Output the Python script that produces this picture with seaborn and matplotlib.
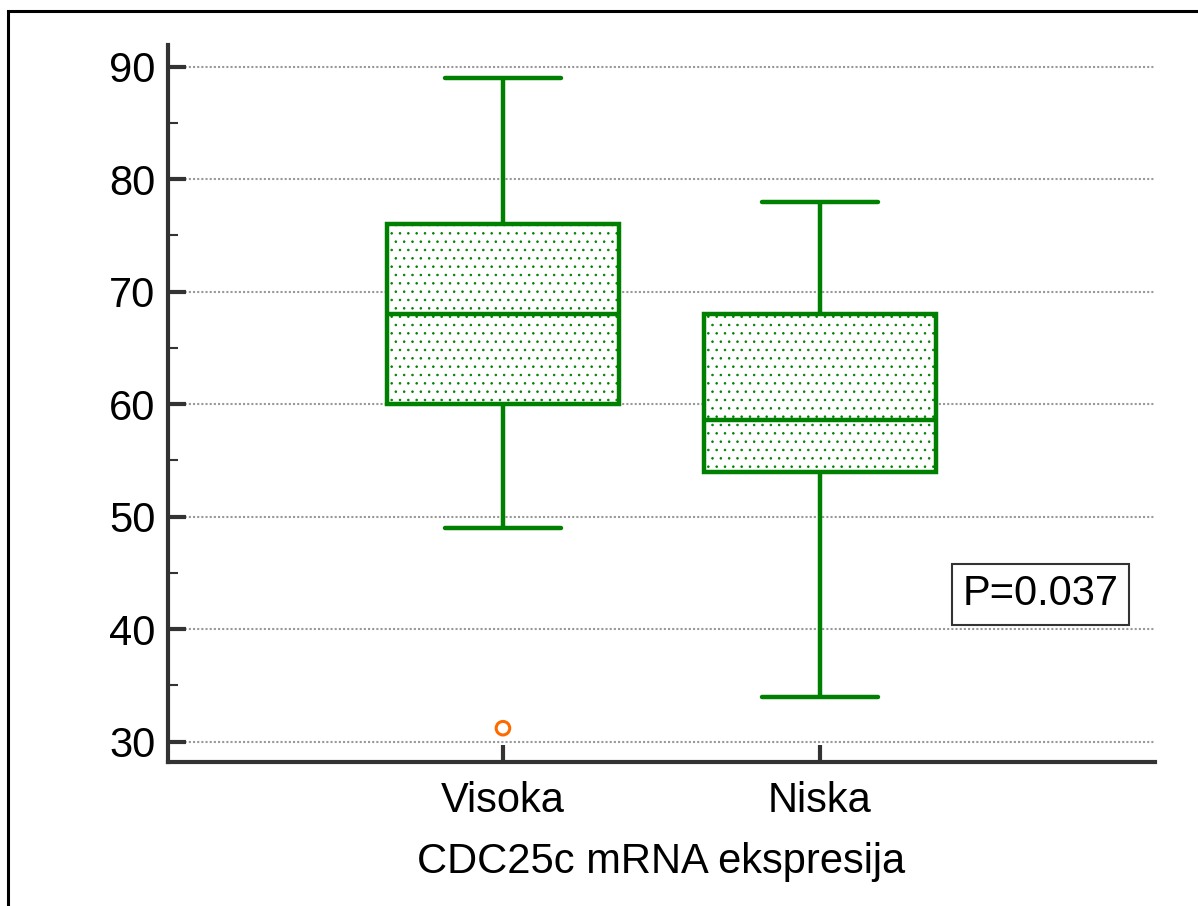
import matplotlib
matplotlib.use("Agg")
import matplotlib.pyplot as plt
from matplotlib.patches import Rectangle
from matplotlib.ticker import MultipleLocator
import pandas as pd
import seaborn as sns

# values (box plot summary per group)
groups = ['Visoka', 'Niska']
whisker_low = [49, 34]
q1 = [60, 54]
median = [68, 58.6]
q3 = [76, 68]
whisker_high = [89, 78]
outlier_group = ['Visoka']
outlier_value = [31.2]
p_text = 'P=0.037'
x_title = 'CDC25c mRNA ekspresija'

# five points per group -> quartiles / whiskers come out exactly as read
rows = []
for i, g in enumerate(groups):
    for v in [whisker_low[i], q1[i], median[i], q3[i], whisker_high[i]]:
        rows.append({'group': g, 'value': v})
df = pd.DataFrame(rows)

sns.set_style('white')
plt.rcParams['font.family'] = ['Liberation Sans', 'DejaVu Sans']
plt.rcParams['hatch.linewidth'] = 0.6
plt.rcParams['text.color'] = 'black'
plt.rcParams['axes.labelcolor'] = 'black'
plt.rcParams['xtick.labelcolor'] = 'black'
plt.rcParams['ytick.labelcolor'] = 'black'

green = '#008000'
dark = '#333333'

fig = plt.figure(figsize=(11.98, 9.06), dpi=100)
ax = fig.add_axes([0.1402, 0.159, 0.8238, 0.791])

sns.boxplot(data=df, x='group', y='value', order=groups, width=0.73,
            color='white', linecolor=green, linewidth=3.2, showfliers=False,
            whis=1.5, ax=ax)
for p in ax.patches:
    p.set_hatch('..')

ax.scatter([groups.index(g) for g in outlier_group], outlier_value, s=95,
           facecolors='none', edgecolors='#ff6a00', linewidths=2.2, zorder=5)

ax.set_xlim(-1.057, 2.057)
ax.set_ylim(28.2, 91.9)
ax.set_yticks(range(30, 91, 10))
ax.yaxis.set_minor_locator(MultipleLocator(5))

ax.yaxis.grid(True, which='major', linestyle=(0, (1, 1)), color='#999999', linewidth=1.5)
ax.set_axisbelow(True)

for s in ['top', 'right']:
    ax.spines[s].set_visible(False)
for s in ['left', 'bottom']:
    ax.spines[s].set_linewidth(3)
    ax.spines[s].set_color(dark)

ax.tick_params(axis='y', which='major', direction='in', length=13, width=3,
               color=dark, labelsize=30, pad=9, left=True, labelcolor='black')
ax.tick_params(axis='y', which='minor', direction='in', length=7, width=1.5,
               color=dark, left=True)
ax.tick_params(axis='x', which='major', direction='in', length=12, width=3,
               color=dark, labelsize=30, pad=14, bottom=True, labelcolor='black')

ax.set_xlabel(x_title, fontsize=30, labelpad=15, color='black')
ax.set_ylabel('')

ax.text(0.8845, 0.234, p_text, transform=ax.transAxes, fontsize=30,
        ha='center', va='center', color='black',
        bbox=dict(boxstyle='square,pad=0.25', facecolor='white',
                  edgecolor=dark, linewidth=1.5))

# frame round the figure, cut off at right and bottom
fig.patches.append(Rectangle((8 / 1198, -0.1), 1.2, 1 - 11 / 906 + 0.1,
                             transform=fig.transFigure, fill=False,
                             edgecolor='black', linewidth=2.2))

fig.savefig('out.png', dpi=100)
